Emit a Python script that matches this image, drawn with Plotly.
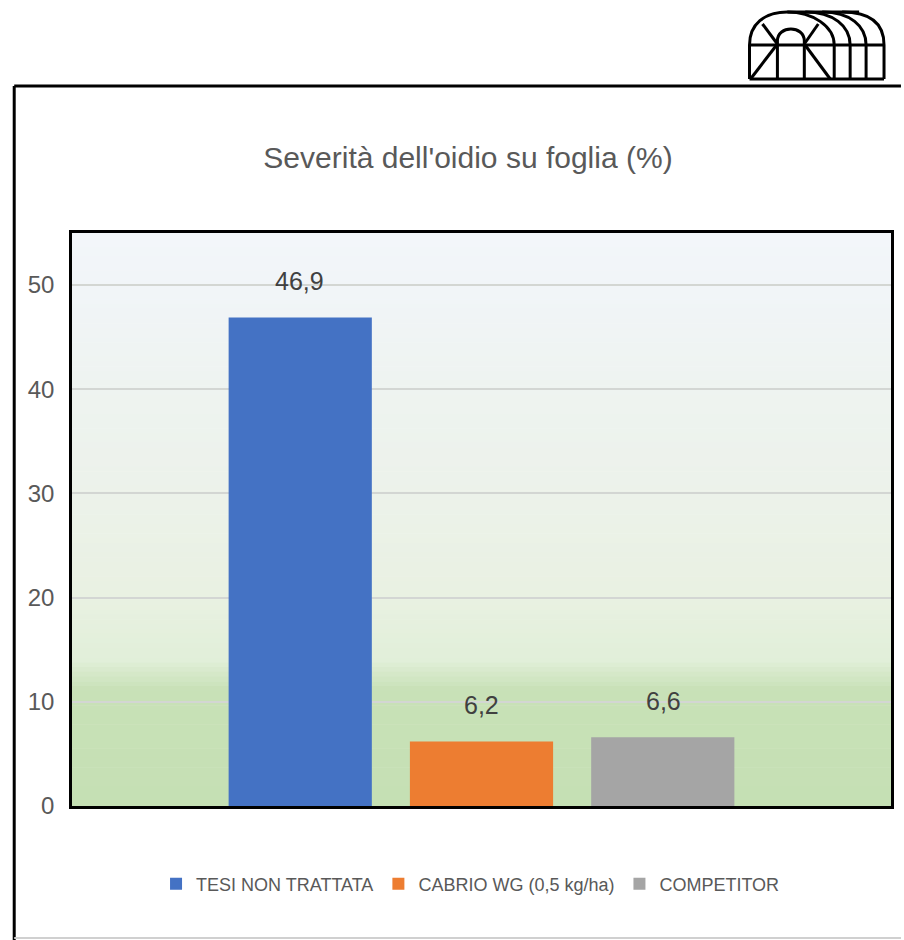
import plotly.graph_objects as go

# ---- data ----
series_names = ["TESI NON TRATTATA", "CABRIO WG (0,5 kg/ha)", "COMPETITOR"]
series_values = [46.9, 6.2, 6.6]
series_colors = ["#4472c4", "#ed7d31", "#a5a5a5"]
category = [""]
y_ticks = [0, 10, 20, 30, 40, 50]
title_text = "Severità dell'oidio su foglia (%)"

W, H = 904, 940
L, R, T, B = 72, 894, 233, 806  # plot area in pixels
BARGAP = 0.336
BARGROUPGAP = 0.21

def px(x):
    return (x - L) / (R - L)

def py(y):
    return (B - y) / (B - T)

FONT = "Liberation Sans Narrow, Arial Narrow, Liberation Sans, Arial, sans-serif"

fig = go.Figure()
for name, val, col in zip(series_names, series_values, series_colors):
    fig.add_trace(go.Bar(
        x=category, y=[val], name=name, marker_color=col,
        marker_line_width=0, cliponaxis=False,
    ))

# value labels above bars (x shift = slot offset inside the group)
slot_px = (1 - BARGAP) * (R - L) / len(series_values)
annotations = []
for i, val in enumerate(series_values):
    annotations.append(dict(
        x=0, y=val, xref="x", yref="y", text=("%.1f" % val).replace(".", ","),
        showarrow=False, yanchor="bottom", xanchor="center",
        xshift=(i - (len(series_values) - 1) / 2) * slot_px, yshift=20,
        font=dict(family=FONT, size=25, color="#404040"),
    ))

shapes = []
# gradient background (styling), stops: (pixel y, color)
stops = [(233, (243, 246, 250)), (285, (241, 245, 248)), (389, (238, 243, 240)),
         (493, (236, 242, 234)), (597, (233, 241, 226)), (660, (225, 239, 217)),
         (690, (200, 225, 183)), (806, (197, 224, 180))]
n = 120
for i in range(n):
    y0 = T + (B - T) * i / n
    y1 = T + (B - T) * (i + 1) / n
    ym = (y0 + y1) / 2
    for j in range(len(stops) - 1):
        if stops[j][0] <= ym <= stops[j + 1][0]:
            a, ca = stops[j]
            b, cb = stops[j + 1]
            t = (ym - a) / (b - a)
            c = tuple(round(ca[k] + (cb[k] - ca[k]) * t) for k in range(3))
            break
    shapes.append(dict(type="rect", xref="paper", yref="paper", x0=0, x1=1,
                       y0=py(y1), y1=py(y0) + 0.001, fillcolor="rgb(%d,%d,%d)" % c,
                       line_width=0, layer="below"))

# outer frame
shapes.append(dict(type="line", xref="paper", yref="paper", x0=px(14), x1=px(904),
                   y0=py(86), y1=py(86), line=dict(color="black", width=3)))
shapes.append(dict(type="line", xref="paper", yref="paper", x0=px(14), x1=px(14),
                   y0=py(86), y1=py(940), line=dict(color="black", width=3)))
shapes.append(dict(type="line", xref="paper", yref="paper", x0=px(14), x1=px(904),
                   y0=py(938), y1=py(938), line=dict(color="#d0d0d0", width=2)))

# logo (greenhouse icon)
def path(cmds):
    out = []
    for c in cmds:
        if isinstance(c, str):
            out.append(c)
        else:
            out.append("%.5f,%.5f" % (px(c[0]), py(c[1])))
    return " ".join(out)

logo_paths = [
    ["M", (752, 79), "L", (887, 79)],
    ["M", (752, 45), "L", (887, 45)],
    ["M", (752, 79), "L", (752, 45)],
    ["M", (837, 79), "L", (837, 45)],
    ["M", (853, 79), "L", (853, 45)],
    ["M", (869, 79), "L", (869, 45)],
    ["M", (887, 79), "L", (887, 45)],
    ["M", (752, 45), "C", (752, 24), (767, 12), (790, 12), "C", (815, 12), (837, 26), (837, 45)],
    ["M", (790, 12), "L", (862, 12)],
    ["M", (808, 12), "C", (836, 12), (853, 26), (853, 45)],
    ["M", (825, 12), "C", (853, 12), (869, 26), (869, 45)],
    ["M", (845, 12), "C", (874, 12), (887, 24), (887, 45)],
    ["M", (780, 79), "L", (780, 41), "C", (780, 25), (807, 25), (807, 41), "L", (807, 79)],
    ["M", (753, 79), "L", (780, 44)],
    ["M", (765, 24), "L", (780, 44)],
    ["M", (807, 44), "L", (833, 79)],
    ["M", (807, 44), "L", (821, 24)],
]
for p in logo_paths:
    shapes.append(dict(type="path", xref="paper", yref="paper", path=path(p),
                       line=dict(color="black", width=3)))

fig.update_layout(
    width=W, height=H,
    margin=dict(l=L, r=W - R, t=T, b=H - B, pad=0),
    paper_bgcolor="white",
    plot_bgcolor="rgba(0,0,0,0)",
    separators=",.",
    barmode="group",
    bargap=BARGAP,
    bargroupgap=BARGROUPGAP,
    font=dict(family=FONT, color="#595959"),
    title=dict(text=title_text, x=468 / W, xanchor="center", xref="container",
               y=1 - 157 / H, yanchor="middle", yref="container",
               font=dict(family=FONT, size=30, color="#595959")),
    legend=dict(orientation="h", x=px(472), xanchor="center", y=py(884),
                yanchor="middle", font=dict(family=FONT, size=18, color="#595959"),
                bgcolor="rgba(0,0,0,0)", itemwidth=30),
    shapes=shapes,
    annotations=annotations,
    showlegend=True,
)
fig.update_xaxes(showticklabels=False, showgrid=False, showline=True, mirror=True,
                 linecolor="black", linewidth=2.5, zeroline=False)
fig.update_yaxes(range=[0, 55], tickvals=y_ticks, showgrid=True, gridcolor="#d3d6d3",
                 gridwidth=2, showline=True, mirror=True, linecolor="black",
                 linewidth=2.5, zeroline=False, ticks="outside", ticklen=10,
                 tickcolor="rgba(0,0,0,0)",
                 tickfont=dict(family=FONT, size=24, color="#595959"))

fig.write_html("out.html", config={"displayModeBar": False},
               post_script="document.body.style.margin='0';")
